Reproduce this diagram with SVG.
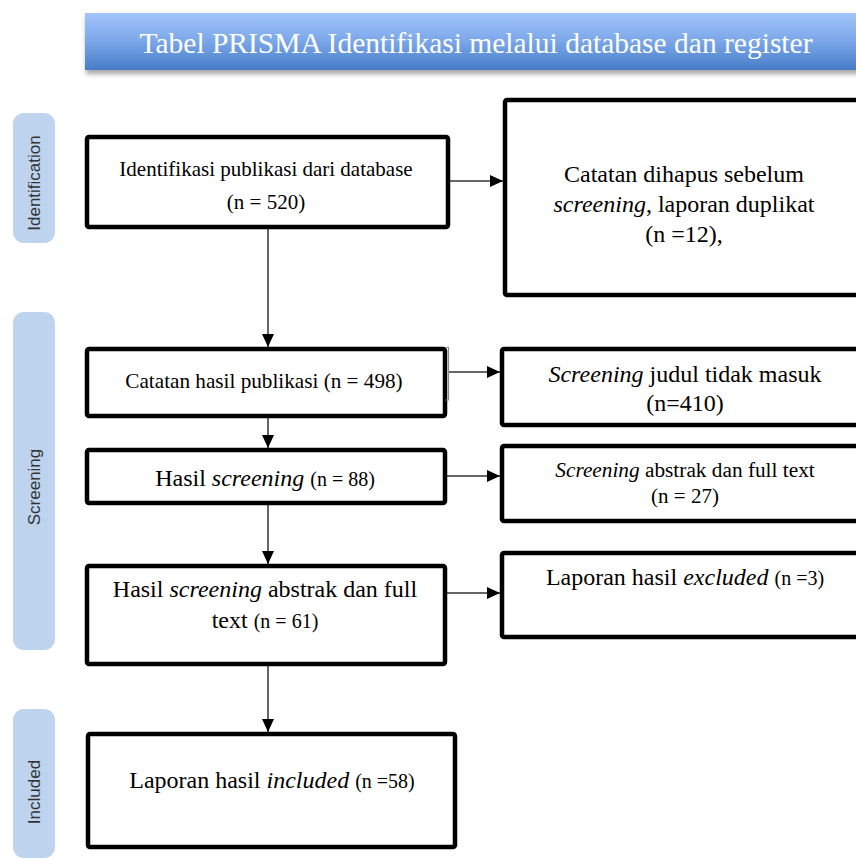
<svg xmlns="http://www.w3.org/2000/svg" width="856" height="859" viewBox="0 0 856 859">
<defs>
<linearGradient id="bannerGrad" x1="0" y1="0" x2="0" y2="1">
<stop offset="0" stop-color="#a3c6fb"/>
<stop offset="0.5" stop-color="#7aa6e8"/>
<stop offset="1" stop-color="#477dc8"/>
</linearGradient>
<filter id="shadow" x="-5%" y="-20%" width="110%" height="160%">
<feDropShadow dx="1" dy="4" stdDeviation="2.5" flood-color="#000" flood-opacity="0.35"/>
</filter>
<marker id="arrow" markerUnits="userSpaceOnUse" markerWidth="13" markerHeight="12" refX="13" refY="6" orient="auto">
<path d="M0,0 L13,6 L0,12 z" fill="#000"/>
</marker>
<style>
.box{fill:#fff;stroke:#000;stroke-width:4.5;}
.pill{fill:#bdd3ee;}
.side{font-family:"Liberation Sans",Arial,sans-serif;font-size:17px;fill:#333;text-anchor:middle;}
.t{font-family:"Liberation Serif","Times New Roman",serif;fill:#000;text-anchor:middle;}
.conn{stroke:#333;stroke-width:1.5;fill:none;}
.it{font-style:italic;}
.sm{font-size:20px;}
</style>
</defs>

<g id="title">
<rect x="85" y="13" width="790" height="57" fill="url(#bannerGrad)" filter="url(#shadow)"/>
<text x="476" y="53" class="t" style="font-size:29.5px;fill:#fff;">Tabel PRISMA Identifikasi melalui database dan register</text>
</g>

<g id="phase-identification">
<rect x="13" y="113" width="42" height="130" rx="11" class="pill"/>
<text class="side" transform="translate(40,183) rotate(-90)">Identification</text>
</g>
<g id="phase-screening">
<rect x="13" y="312" width="42" height="338" rx="11" class="pill"/>
<text class="side" transform="translate(40,487) rotate(-90)">Screening</text>
</g>
<g id="phase-included">
<rect x="13" y="709" width="42" height="149" rx="11" class="pill"/>
<text class="side" transform="translate(40,792) rotate(-90)">Included</text>
</g>

<g id="connectors">
<line class="conn" x1="268" y1="229" x2="268" y2="347" marker-end="url(#arrow)"/>
<line class="conn" x1="268" y1="418" x2="268" y2="448" marker-end="url(#arrow)"/>
<line class="conn" x1="268" y1="505" x2="268" y2="564" marker-end="url(#arrow)"/>
<line class="conn" x1="268" y1="666" x2="268" y2="732" marker-end="url(#arrow)"/>
<line class="conn" x1="450" y1="181" x2="503" y2="181" marker-end="url(#arrow)"/>
<line class="conn" x1="449" y1="372" x2="500" y2="372" marker-end="url(#arrow)"/>
<line class="conn" x1="447" y1="476" x2="500" y2="476" marker-end="url(#arrow)"/>
<line class="conn" x1="447" y1="593" x2="500" y2="593" marker-end="url(#arrow)"/>
</g>

<g id="n-identifikasi">
<rect x="87" y="137" width="361" height="90" rx="2" class="box"/>
<text class="t" style="font-size:21px;" x="266" y="176">Identifikasi publikasi dari database</text>
<text class="t" style="font-size:21px;" x="266" y="209">(n = 520)</text>
</g>

<g id="n-dihapus">
<rect x="505" y="100" width="370" height="195" rx="2" class="box"/>
<text class="t" style="font-size:24px;" x="684" y="182">Catatan dihapus sebelum</text>
<text class="t" style="font-size:24px;" x="684" y="212"><tspan class="it">screening</tspan>, laporan duplikat</text>
<text class="t" style="font-size:24px;" x="684" y="242">(n =12),</text>
</g>

<g id="n-catatan">
<rect x="87" y="349" width="358" height="67" rx="2" class="box"/>
<path d="M445.5,347.5 H448.5 V400 H445.5" fill="none" stroke="#888" stroke-width="1.2"/>
<text class="t" style="font-size:21.2px;" x="264" y="388">Catatan hasil publikasi (n = 498)</text>
</g>

<g id="n-judul">
<rect x="502" y="349" width="370" height="76" rx="2" class="box"/>
<text class="t" style="font-size:24px;" x="685" y="382"><tspan class="it">Screening</tspan> judul tidak masuk</text>
<text class="t" style="font-size:24px;" x="685" y="411">(n=410)</text>
</g>

<g id="n-hasil-screening">
<rect x="87" y="450" width="358" height="53" rx="2" class="box"/>
<text class="t" style="font-size:24px;" x="265" y="486">Hasil <tspan class="it">screening</tspan> <tspan class="sm">(n = 88)</tspan></text>
</g>

<g id="n-abstrak">
<rect x="502" y="446" width="370" height="75" rx="2" class="box"/>
<text class="t" style="font-size:21.3px;" x="685" y="477"><tspan class="it">Screening</tspan> abstrak dan full text</text>
<text class="t" style="font-size:21px;" x="685" y="503">(n = 27)</text>
</g>

<g id="n-hasil-abstrak">
<rect x="87" y="566" width="358" height="98" rx="2" class="box"/>
<text class="t" style="font-size:24px;" x="265" y="597">Hasil <tspan class="it">screening</tspan> abstrak dan full</text>
<text class="t" style="font-size:24px;" x="265" y="628">text <tspan class="sm">(n = 61)</tspan></text>
</g>

<g id="n-excluded">
<rect x="502" y="553" width="370" height="84" rx="2" class="box"/>
<text class="t" style="font-size:24px;" x="685" y="585">Laporan hasil <tspan class="it">excluded</tspan> <tspan class="sm">(n =3)</tspan></text>
</g>

<g id="n-included">
<rect x="88" y="734" width="367" height="113" rx="2" class="box"/>
<text class="t" style="font-size:24px;" x="272" y="788">Laporan hasil <tspan class="it">included</tspan> <tspan class="sm">(n =58)</tspan></text>
</g>
</svg>
